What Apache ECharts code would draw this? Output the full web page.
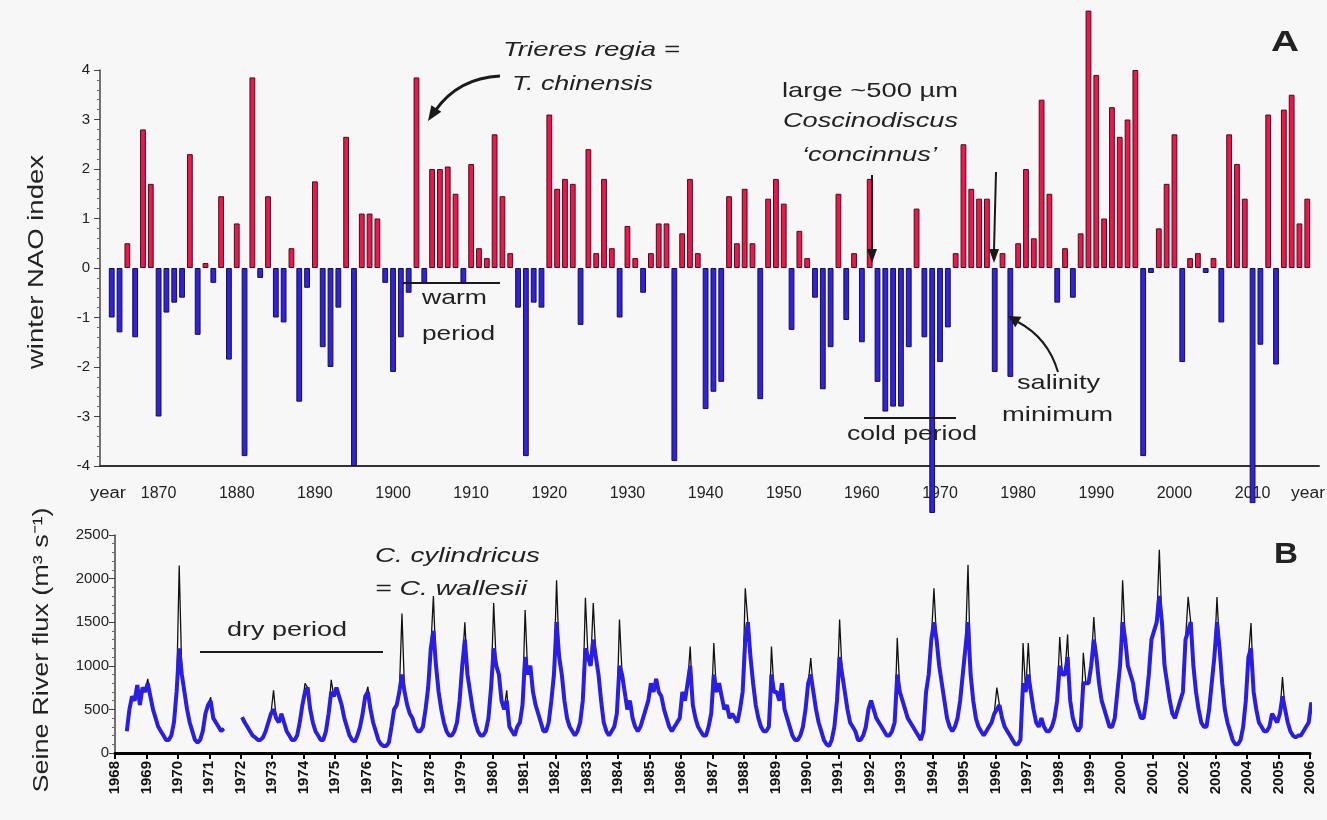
<!DOCTYPE html>
<html><head><meta charset="utf-8">
<script src="https://cdn.jsdelivr.net/npm/echarts@6/dist/echarts.min.js"></script>
<style>html,body{margin:0;padding:0;background:#f7f7f7}#c{width:1327px;height:820px}</style>
</head><body><div id="c"></div>
<script>
// ---------- Panel A: winter NAO index ----------
const naoFirstYear = 1863;
const naoLastYear = 2018;
const naoValues = [
  null,-1.0,-1.3,0.5,-1.4,2.8,1.7,                 // 1863-1869
  -3.0,-0.9,-0.7,-0.6,2.3,-1.35,0.1,-0.3,1.45,-1.85, // 1870s
  0.9,-3.8,3.85,-0.2,1.45,-1.0,-1.1,0.4,-2.7,-0.4,   // 1880s
  1.75,-1.6,-2.0,-0.8,2.65,-4.0,1.1,1.1,1.0,-0.3,    // 1890s
  -2.1,-1.4,-0.5,3.85,-0.3,2.0,2.0,2.05,1.5,-0.3,    // 1900s
  2.1,0.4,0.2,2.7,1.45,0.3,-0.8,-3.8,-0.7,-0.8,      // 1910s
  3.1,1.6,1.8,1.7,-1.15,2.4,0.3,1.8,0.4,-1.0,        // 1920s
  0.85,0.2,-0.5,0.3,0.9,0.9,-3.9,0.7,1.8,0.3,        // 1930s
  -2.85,-2.5,-2.3,1.45,0.5,1.6,0.5,-2.65,1.4,1.8,    // 1940s
  1.3,-1.25,0.75,0.2,-0.6,-2.45,-1.6,1.5,-1.05,0.3,  // 1950s
  -1.5,1.8,-2.3,-2.9,-2.8,-2.8,-1.6,1.2,-1.4,-4.95,  // 1960s
  -1.9,-1.2,0.3,2.5,1.6,1.4,1.4,-2.1,0.3,-2.2,       // 1970s
  0.5,2.0,0.6,3.4,1.5,-0.7,0.4,-0.6,0.7,5.2,         // 1980s
  3.9,1.0,3.25,2.65,3.0,4.0,-3.8,-0.1,0.8,1.7,       // 1990s
  2.7,-1.9,0.2,0.3,-0.1,0.2,-1.1,2.7,2.1,1.4,        // 2000s
  -4.75,-1.55,3.1,-1.95,3.2,3.5,0.9,1.4,null         // 2010s
];
const naoYTicks = [-4,-3,-2,-1,0,1,2,3,4];

// ---------- Panel B: Seine River flux, monthly (Jan..Dec) ----------
const fluxFirstYear = 1968;
const fluxLastYear = 2006;
const seineMonthly = [
  [null,null,null,null,250,500,650,600,780,550,750,700],   // 1968
  [800,650,500,400,300,250,200,150,150,200,350,700],        // 1969
  [1200,900,700,500,350,250,150,120,150,250,450,550],       // 1970
  [600,400,350,300,250,280,null,null,null,null,null,null],  // 1971
  [410,350,300,250,200,180,150,150,180,250,350,450],        // 1972
  [500,400,350,450,350,250,200,150,150,200,350,550],        // 1973
  [700,750,500,350,250,200,150,150,250,450,700,650],        // 1974
  [750,650,550,400,300,200,150,130,200,300,450,650],        // 1975
  [700,500,350,250,150,100,80,80,120,300,500,550],          // 1976
  [700,900,700,550,450,400,300,250,250,300,500,750],        // 1977
  [1200,1400,1000,700,500,350,250,200,200,250,350,600],     // 1978
  [1000,1300,900,700,500,350,250,200,200,250,400,750],      // 1979
  [1200,1000,900,600,500,600,300,250,200,300,350,550],      // 1980
  [1100,900,1000,700,550,450,350,250,250,350,600,900],      // 1981
  [1500,1100,900,600,400,300,250,200,250,350,600,1200],     // 1982
  [1100,1000,1300,1100,900,600,350,250,200,250,300,450],    // 1983
  [1000,900,700,500,600,400,300,250,300,400,500,600],       // 1984
  [800,700,850,700,650,500,400,300,250,300,350,400],        // 1985
  [700,600,800,1000,550,400,300,250,200,200,300,450],       // 1986
  [900,700,800,650,500,550,400,450,400,350,500,700],        // 1987
  [1300,1500,1100,800,550,400,300,250,250,300,900,700],     // 1988
  [700,600,800,500,400,300,200,150,150,200,300,500],        // 1989
  [800,900,700,500,350,250,150,100,80,150,300,600],         // 1990
  [1100,900,700,500,350,300,250,150,150,200,300,500],       // 1991
  [600,500,400,350,300,250,200,200,250,350,900,700],        // 1992
  [600,500,400,350,300,250,200,150,250,700,900,1300],       // 1993
  [1500,1300,1000,800,600,400,300,250,300,400,600,900],     // 1994
  [1200,1500,900,600,400,300,250,200,250,300,350,450],      // 1995
  [500,550,400,300,250,200,150,100,100,150,800,700],        // 1996
  [900,700,500,350,300,400,300,250,250,300,400,600],        // 1997
  [1000,900,900,1100,600,400,300,250,300,800,800,800],      // 1998
  [1000,1300,1100,800,600,500,400,300,300,400,700,1000],    // 1999
  [1500,1300,1000,900,800,600,500,400,400,600,900,1300],    // 2000
  [1400,1500,1800,1500,1000,800,600,450,400,500,600,700],   // 2001
  [1300,1400,1500,1000,700,500,350,300,300,500,800,1100],   // 2002
  [1500,1200,800,500,350,250,150,100,100,150,300,600],      // 2003
  [1100,1200,700,500,350,300,250,250,300,450,400,350],      // 2004
  [450,650,500,350,250,200,180,200,200,250,300,350],        // 2005
  [580]                                                     // 2006
];
// short flood peaks above the monthly line: [year, monthIndex, flux]
const fluxPeaks = [
  [1969,0,850],[1970,0,2150],[1971,0,640],[1973,0,720],[1974,0,800],[1974,10,840],
  [1976,0,760],[1977,1,1600],[1978,1,1800],[1979,1,1500],[1980,0,1720],[1980,5,720],
  [1981,0,1640],[1982,0,1980],[1982,11,1780],[1983,2,1720],[1984,0,1530],[1986,3,1220],
  [1987,0,1260],[1988,0,1890],[1988,10,1220],[1989,2,800],[1990,1,1090],[1991,0,1530],
  [1992,10,1320],[1994,0,1890],[1995,1,2160],[1996,0,750],[1996,10,1260],[1997,0,1260],
  [1998,0,1330],[1998,3,1360],[1998,9,1150],[1999,1,1560],[2000,0,1980],[2001,2,2330],
  [2002,1,1790],[2003,0,1790],[2004,1,1490],[2005,1,870]
];
const fluxYTicks = [0,500,1000,1500,2000,2500];

// ---------- build ----------
const naoYears = [];
for (let y = naoFirstYear; y <= naoLastYear; y++) naoYears.push(String(y));
const naoBars = naoValues.map(v => v === null ? null : {
  value: v,
  itemStyle: v >= 0
    ? { color: '#e8194c', borderColor: '#4a0c1c', borderWidth: 1 }
    : { color: '#3322d8', borderColor: '#10104a', borderWidth: 1 }
});

const blueLine = [], blackLine = [];
seineMonthly.forEach((row, i) => {
  const yr = fluxFirstYear + i;
  row.forEach((v, m) => {
    const x = yr + m / 12 + 1 / 24;
    blueLine.push([x, v]);
    const pk = fluxPeaks.find(p => p[0] === yr && p[1] === m);
    blackLine.push([x, pk ? pk[2] : v]);
  });
});

const FONT = "'Liberation Sans', Arial, sans-serif";
const TXT = '#222';
const measureCtx = document.createElement('canvas').getContext('2d');
function widthOf(t, font) { measureCtx.font = font; return measureCtx.measureText(t).width; }

function arrowHead(tipX, tipY, dx, dy, len, half) {
  const L = Math.hypot(dx, dy); const ux = dx / L, uy = dy / L;
  const bx = tipX - ux * len, by = tipY - uy * len;
  return { type: 'polygon', shape: { points: [[tipX, tipY], [bx - uy * half, by + ux * half], [bx + uy * half, by - ux * half]] }, style: { fill: '#1a1a1a' }, z: 100 };
}
// text placed at left/top, horizontally stretched to the given width
function txt(x, y, t, font, w) {
  const sx = w ? w / widthOf(t, font) : 1;
  return { type: 'text', x: x, y: y, scaleX: sx, style: { text: t, font: font, fill: TXT }, z: 100 };
}
// vertical axis title centred at (cx, cy), reading bottom-to-top
function vtxt(cx, cy, t, font, len) {
  const s = len / widthOf(t, font);
  return { type: 'text', x: cx, y: cy, rotation: Math.PI / 2, scaleX: s,
    style: { text: t, font: font, fill: TXT, align: 'center', verticalAlign: 'middle' }, z: 100 };
}
const lineStyle = { stroke: '#1a1a1a', lineWidth: 2 };
const F21 = "21px " + FONT, I21 = "italic 21px " + FONT;

const graphics = [
  // Panel A annotations
  txt(503, 40, 'Trieres regia =', I21, 177),
  txt(512, 74, 'T. chinensis', I21, 141),
  { type: 'bezierCurve', shape: { x1: 500, y1: 76, x2: 435, y2: 111, cpx1: 458, cpy1: 78 }, style: { stroke: '#1a1a1a', lineWidth: 3, fill: null }, z: 100 },
  arrowHead(428, 121, -20, 30, 15, 6),
  txt(782, 81, 'large ~500 \u00b5m', F21, 176),
  txt(783, 111, 'Coscinodiscus', I21, 175),
  txt(802, 145, '\u2018concinnus\u2019', I21, 135),
  { type: 'line', shape: { x1: 872, y1: 175, x2: 872, y2: 250 }, style: lineStyle, z: 100 },
  arrowHead(872, 263, 0, 1, 14, 5),
  { type: 'line', shape: { x1: 996, y1: 172, x2: 994, y2: 250 }, style: lineStyle, z: 100 },
  arrowHead(994, 263, 0, 1, 14, 5),
  { type: 'line', shape: { x1: 403, y1: 283, x2: 500, y2: 283 }, style: lineStyle, z: 100 },
  txt(422, 288, 'warm', F21, 65),
  txt(422, 324, 'period', F21, 73),
  { type: 'line', shape: { x1: 864, y1: 418, x2: 956, y2: 418 }, style: lineStyle, z: 100 },
  txt(847, 424, 'cold period', F21, 130),
  txt(1017, 373, 'salinity', F21, 83),
  txt(1002, 405, 'minimum', F21, 111),
  { type: 'bezierCurve', shape: { x1: 1058, y1: 372, x2: 1018, y2: 322, cpx1: 1048, cpy1: 338 }, style: { stroke: '#1a1a1a', lineWidth: 2, fill: null }, z: 100 },
  arrowHead(1008, 316, -12, -7, 12, 6),
  txt(1271, 28, 'A', "bold 30px " + FONT, 28),
  txt(90, 486, 'year', "16px " + FONT, 36),
  txt(1291, 486, 'year', "16px " + FONT, 34),
  vtxt(37, 262, 'winter NAO index', "22px " + FONT, 214),
  // Panel B annotations
  { type: 'line', shape: { x1: 200, y1: 652, x2: 383, y2: 652 }, style: lineStyle, z: 100 },
  txt(227, 620, 'dry period', F21, 120),
  txt(375, 546, 'C. cylindricus', I21, 165),
  txt(375, 579, '= C. wallesii', I21, 152),
  txt(1274, 540, 'B', "bold 30px " + FONT, 24),
  vtxt(42, 650, 'Seine River flux (m\u00b3 s\u207b\u00b9)', "22px " + FONT, 285)
];

const chart = echarts.init(document.getElementById('c'), null, { renderer: 'canvas' });
chart.setOption({
  backgroundColor: '#f7f7f7',
  animation: false,
  textStyle: { fontFamily: FONT },
  grid: [
    { left: 100, right: 8, top: 70, bottom: 354 },
    { left: 115, right: 17, top: 535, bottom: 67 }
  ],
  xAxis: [
    {
      gridIndex: 0, type: 'category', data: naoYears, boundaryGap: true,
      axisLine: { onZero: false, lineStyle: { color: '#333', width: 2 } },
      axisTick: { alignWithLabel: true, length: 7, interval: (i) => (naoFirstYear + i) % 5 === 0, lineStyle: { color: '#333' } },
      axisLabel: { interval: (i) => (naoFirstYear + i) % 10 === 0, color: TXT, fontSize: 16, margin: 20 },
      splitLine: { show: false }
    },
    {
      gridIndex: 1, type: 'value', min: fluxFirstYear, max: fluxLastYear, interval: 1,
      axisLine: { onZero: false, lineStyle: { color: '#000', width: 3 } },
      axisTick: { length: 6, lineStyle: { color: '#000', width: 2 } },
      axisLabel: { rotate: 90, color: '#111', fontSize: 15, fontWeight: 'bold', margin: 8, formatter: (v) => String(v) },
      splitLine: { show: false }
    }
  ],
  yAxis: [
    {
      gridIndex: 0, type: 'value', min: naoYTicks[0], max: naoYTicks[naoYTicks.length - 1], interval: 1,
      axisLine: { show: true, lineStyle: { color: '#444', width: 1.5 } },
      axisTick: { show: true, length: 6, lineStyle: { color: '#444' } },
      minorTick: { show: true, splitNumber: 5, length: 3, lineStyle: { color: '#666' } },
      axisLabel: { color: TXT, fontSize: 15, margin: 10 },
      splitLine: { show: false }
    },
    {
      gridIndex: 1, type: 'value', min: fluxYTicks[0], max: fluxYTicks[fluxYTicks.length - 1], interval: 500,
      axisLine: { show: true, lineStyle: { color: '#444', width: 1.5 } },
      axisTick: { show: true, length: 6, lineStyle: { color: '#444' } },
      minorTick: { show: true, splitNumber: 5, length: 3, lineStyle: { color: '#666' } },
      axisLabel: { color: TXT, fontSize: 15, margin: 6, formatter: (v) => String(v) },
      splitLine: { show: false }
    }
  ],
  series: [
    {
      type: 'bar', xAxisIndex: 0, yAxisIndex: 0, data: naoBars,
      barCategoryGap: '26%', clip: false
    },
    {
      type: 'line', xAxisIndex: 1, yAxisIndex: 1, data: blackLine, showSymbol: false,
      connectNulls: false, lineStyle: { color: '#111', width: 1.3 }, z: 2
    },
    {
      type: 'line', xAxisIndex: 1, yAxisIndex: 1, data: blueLine, showSymbol: false,
      connectNulls: false, lineStyle: { color: '#2a1fe0', width: 4 }, z: 3
    }
  ],
  graphic: { elements: graphics }
});
</script></body></html>
